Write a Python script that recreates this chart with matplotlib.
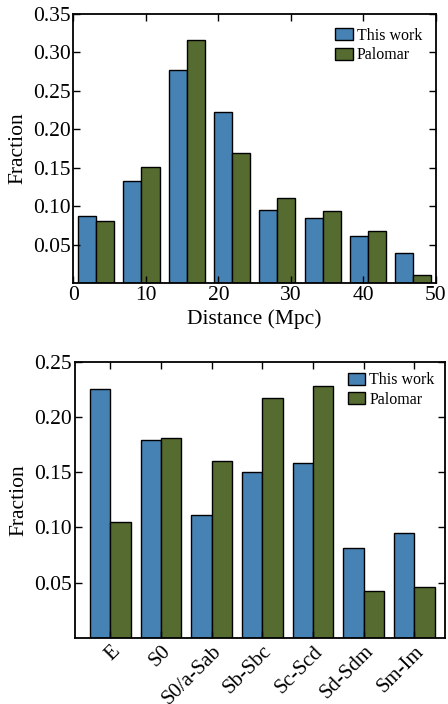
import numpy as np
import matplotlib
matplotlib.use('Agg')
import matplotlib.pyplot as plt

plt.rcParams['font.family'] = ['Liberation Serif', 'DejaVu Serif']
plt.rcParams['xtick.direction'] = 'in'
plt.rcParams['ytick.direction'] = 'in'
plt.rcParams['xtick.top'] = True
plt.rcParams['ytick.right'] = True
plt.rcParams['axes.linewidth'] = 1.3

# distance histogram (8 bins between 0 and 50 Mpc)
dist_edges = [0, 6.25, 12.5, 18.75, 25, 31.25, 37.5, 43.75, 50]
dist_this = [0.087, 0.133, 0.277, 0.223, 0.095, 0.084, 0.061, 0.039]
dist_palomar = [0.081, 0.151, 0.316, 0.169, 0.111, 0.094, 0.068, 0.011]

# morphological types
morph_types = ['E', 'S0', 'S0/a-Sab', 'Sb-Sbc', 'Sc-Scd', 'Sd-Sdm', 'Sm-Im']
morph_this = [0.225, 0.179, 0.111, 0.150, 0.158, 0.081, 0.095]
morph_palomar = [0.105, 0.181, 0.160, 0.217, 0.228, 0.042, 0.046]

blue = '#4682b4'
green = '#556b2f'

leg_kw = dict(loc='upper right', frameon=False, fontsize=11.5,
              handlelength=1.1, handleheight=0.8, handletextpad=0.25,
              labelspacing=0.22)

fig = plt.figure(figsize=(4.48, 7.04), dpi=100)

# ---- top panel: distance
ax1 = fig.add_axes([0.164, 0.598, 0.809, 0.382])
edges = np.array(dist_edges)
binw = np.diff(edges)
w = binw * 0.8 / 2
left = edges[:-1] + binw * 0.1
ax1.bar(left, dist_this, width=w, align='edge', color=blue,
        edgecolor='black', linewidth=1, label='This work')
ax1.bar(left + w, dist_palomar, width=w, align='edge', color=green,
        edgecolor='black', linewidth=1, label='Palomar')
ax1.set_xlim(0, 50)
ax1.set_ylim(0, 0.35)
ax1.set_yticks([0.05, 0.10, 0.15, 0.20, 0.25, 0.30, 0.35])
ax1.set_yticklabels(['%.2f' % t for t in ax1.get_yticks()])
ax1.set_xticks([0, 10, 20, 30, 40, 50])
ax1.tick_params(labelsize=15.5, length=5, width=1, pad=2)
ax1.set_xlabel('Distance (Mpc)', fontsize=15.5, labelpad=3)
ax1.set_ylabel('Fraction', fontsize=15.5, labelpad=4)
ax1.legend(borderaxespad=0.45, **leg_kw)

# ---- bottom panel: morphology
ax2 = fig.add_axes([0.167, 0.094, 0.826, 0.392])
x = np.arange(len(morph_types))
bw = 0.4
ax2.bar(x - bw, morph_this, width=bw, align='edge', color=blue,
        edgecolor='black', linewidth=1, label='This work')
ax2.bar(x, morph_palomar, width=bw, align='edge', color=green,
        edgecolor='black', linewidth=1, label='Palomar')
ax2.set_xlim(-0.7, 6.6)
ax2.set_ylim(0, 0.25)
ax2.set_yticks([0.05, 0.10, 0.15, 0.20, 0.25])
ax2.set_yticklabels(['%.2f' % t for t in ax2.get_yticks()])
ax2.set_xticks(x)
ax2.set_xticklabels(morph_types, rotation=45, ha='right',
                    rotation_mode='anchor')
ax2.tick_params(labelsize=15.5, length=5, width=1, pad=2)
ax2.tick_params(axis='x', labelsize=15, pad=3)
ax2.set_ylabel('Fraction', fontsize=15.5, labelpad=4)
ax2.legend(borderaxespad=0.25, **leg_kw)

fig.savefig('out.png', dpi=100)
